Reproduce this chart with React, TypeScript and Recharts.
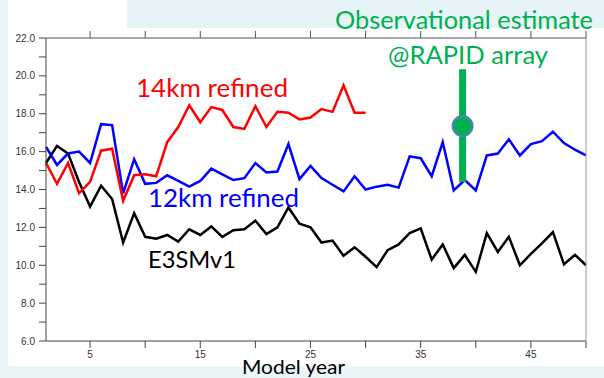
import {
  LineChart,
  Line,
  XAxis,
  YAxis,
  ReferenceLine,
  ReferenceDot,
} from "recharts";

// model years
const years = [
  1, 2, 3, 4, 5, 6, 7, 8, 9, 10, 11, 12, 13, 14, 15, 16, 17, 18, 19, 20, 21, 22, 23, 24, 25,
  26, 27, 28, 29, 30, 31, 32, 33, 34, 35, 36, 37, 38, 39, 40, 41, 42, 43, 44, 45, 46, 47, 48, 49, 50,
];

const e3smv1 = [
  15.4, 16.3, 15.9, 14.4, 13.1, 14.2, 13.5, 11.2, 12.75, 11.5, 11.4, 11.6, 11.25, 11.9, 11.6, 12.05,
  11.5, 11.85, 11.9, 12.35, 11.65, 12.0, 13.05, 12.2, 12.0, 11.2, 11.3, 10.5, 10.95, 10.45, 9.9, 10.8,
  11.1, 11.7, 11.95, 10.3, 11.1, 9.85, 10.55, 9.65, 11.7, 10.7, 11.5, 10.0, 10.6, 11.15, 11.75, 10.05,
  10.55, 10.0,
];

const refined12km = [
  16.25, 15.3, 15.9, 16.0, 15.4, 17.45, 17.4, 13.8, 15.6, 14.3, 14.35, 14.75, 14.45, 14.15, 14.45, 15.1,
  14.8, 14.5, 14.6, 15.4, 14.9, 14.95, 16.4, 14.55, 15.25, 14.6, 14.25, 13.9, 14.7, 14.0, 14.15, 14.25,
  14.1, 15.75, 15.65, 14.7, 16.5, 13.95, 14.5, 13.95, 15.8, 15.9, 16.65, 15.8, 16.4, 16.55, 17.05, 16.45,
  16.1, 15.8,
];

// only 30 years for the 14km run
const refined14km = [
  15.4, 14.3, 15.4, 13.8, 14.4, 16.05, 16.15, 13.4, 14.75, 14.8, 14.7, 16.5, 17.3, 18.45, 17.55, 18.35,
  18.2, 17.3, 17.2, 18.4, 17.3, 18.1, 18.05, 17.7, 17.8, 18.25, 18.1, 19.5, 18.05, 18.05,
];

const xTicks = [5, 10, 15, 20, 25, 30, 35, 40, 45, 50];
const xLabels = [5, 15, 25, 35, 45];
const yTicks = [6, 7, 8, 9, 10, 11, 12, 13, 14, 15, 16, 17, 18, 19, 20, 21, 22];
const yLabels = [6, 8, 10, 12, 14, 16, 18, 20, 22];

// observational estimate at RAPID array
const obsYear = 38.8;
const obsValue = 17.35;
const obsTop = 20.35;
const obsBottom = 14.4;

const data = years.map((year, i) => ({
  year,
  e3sm: e3smv1[i],
  km12: refined12km[i],
  km14: i < refined14km.length ? refined14km[i] : null,
}));

const tickFont = { fontSize: 10, fill: "#333", fontFamily: "Liberation Sans, Arial, sans-serif" };

export default function App() {
  return (
    <div
      style={{
        position: "absolute",
        left: 0,
        top: 0,
        width: 604,
        height: 378,
        background: "#e9f6f8",
        overflow: "hidden",
      }}
    >
      <div style={{ position: "absolute", left: 8, top: 0, width: 596, height: 366, background: "#fff" }} />
      <div style={{ position: "absolute", left: 127, top: 0, width: 477, height: 28, background: "#e6f4f7" }} />
      <div style={{ position: "absolute", left: 0, top: 0 }}>
        <LineChart width={604} height={378} data={data} margin={{ top: 28, right: 8, bottom: 17, left: 8 }}>
          <XAxis
            xAxisId="bottom"
            dataKey="year"
            type="number"
            domain={[1, 50]}
            ticks={xTicks}
            tickFormatter={(v) => (xLabels.includes(v) ? String(v) : "")}
            height={20}
            tickSize={7}
            tickMargin={3}
            stroke="#444"
            tick={tickFont}
            interval={0}
          />
          <XAxis
            xAxisId="top"
            orientation="top"
            dataKey="year"
            type="number"
            domain={[1, 50]}
            ticks={xTicks}
            tickFormatter={() => ""}
            height={10}
            tickSize={7}
            stroke="#555"
            interval={0}
          />
          <YAxis
            yAxisId="left"
            domain={[6, 22]}
            ticks={yTicks}
            tickFormatter={(v) => (yLabels.includes(v) ? v.toFixed(1) : "")}
            width={38}
            tickSize={7}
            tickMargin={4}
            stroke="#444"
            tick={tickFont}
            interval={0}
          />
          <YAxis
            yAxisId="right"
            orientation="right"
            domain={[6, 22]}
            ticks={yTicks}
            tickFormatter={() => ""}
            width={10}
            tickSize={7}
            stroke="#999"
            interval={0}
          />
          <Line xAxisId="bottom" yAxisId="left" dataKey="e3sm" stroke="#000" strokeWidth={2.5} dot={false} isAnimationActive={false} />
          <Line xAxisId="bottom" yAxisId="left" dataKey="km12" stroke="#0000ff" strokeWidth={2.5} dot={false} isAnimationActive={false} />
          <Line xAxisId="bottom" yAxisId="left" dataKey="km14" stroke="#ff0000" strokeWidth={2.5} dot={false} isAnimationActive={false} />
          <ReferenceLine
            xAxisId="bottom"
            yAxisId="left"
            segment={[
              { x: obsYear, y: obsTop },
              { x: obsYear, y: obsBottom },
            ]}
            stroke="#00b050"
            strokeWidth={7}
          />
          <ReferenceDot
            xAxisId="bottom"
            yAxisId="left"
            x={obsYear}
            y={obsValue}
            r={10}
            fill="#00b050"
            stroke="#4f81bd"
            strokeWidth={2}
          />
        </LineChart>
      </div>
      <svg
        width={604}
        height={378}
        style={{ position: "absolute", left: 0, top: 0 }}
        fontFamily="Lato, 'Open Sans', sans-serif"
      >
        <text x={335} y={29} fontSize={25} fill="#00b050" textLength={258} lengthAdjust="spacingAndGlyphs">
          Observational estimate
        </text>
        <text x={388} y={64} fontSize={25} fill="#00b050" textLength={160} lengthAdjust="spacingAndGlyphs">
          @RAPID array
        </text>
        <text x={136} y={97} fontSize={25} fill="#ff0000" textLength={152} lengthAdjust="spacingAndGlyphs">
          14km refined
        </text>
        <text x={148} y={207} fontSize={25} fill="#0000ff" textLength={151} lengthAdjust="spacingAndGlyphs">
          12km refined
        </text>
        <text x={148} y={268} fontSize={23} fill="#000" textLength={88} lengthAdjust="spacingAndGlyphs">
          E3SMv1
        </text>
        <text x={242} y={374} fontSize={19} fill="#000" textLength={103} lengthAdjust="spacingAndGlyphs">
          Model year
        </text>
      </svg>
    </div>
  );
}
